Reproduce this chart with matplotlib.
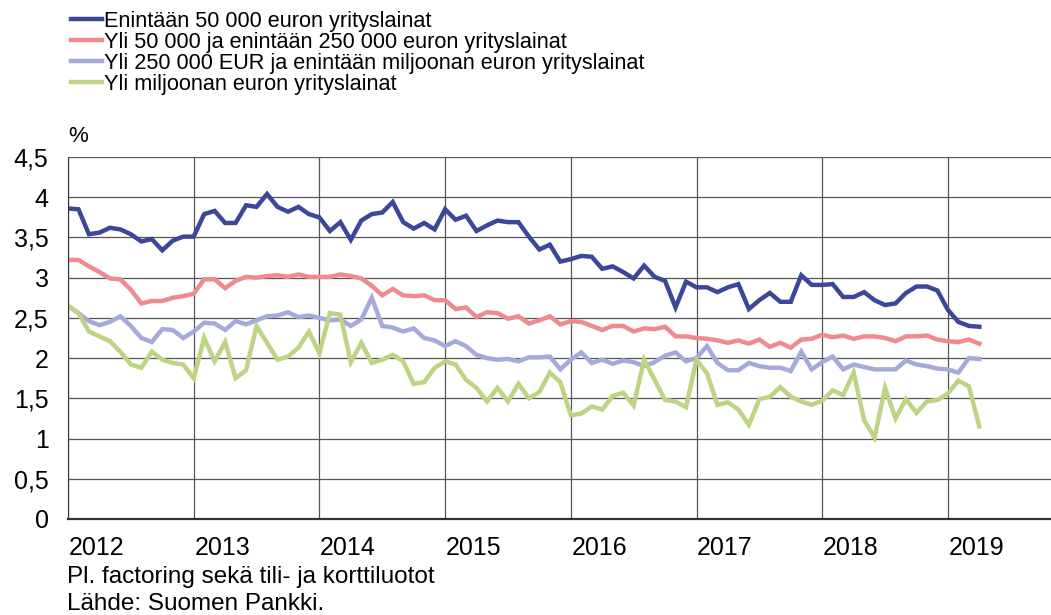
import matplotlib
matplotlib.use("Agg")
import matplotlib.pyplot as plt
import numpy as np

plt.rcParams['font.family'] = ['Liberation Sans', 'DejaVu Sans']

labels = ["Enintään 50 000 euron yrityslainat",
          "Yli 50 000 ja enintään 250 000 euron yrityslainat",
          "Yli 250 000 EUR ja enintään miljoonan euron yrityslainat",
          "Yli miljoonan euron yrityslainat"]
colors = ["#3d4799", "#ee8a90", "#a6a9dc", "#bed384"]

# monthly, Jan 2012 - Apr 2019
small = [3.86, 3.85, 3.54, 3.56, 3.62, 3.60, 3.54, 3.45, 3.48, 3.34, 3.46, 3.51,
         3.51, 3.79, 3.83, 3.68, 3.68, 3.90, 3.88, 4.04, 3.88, 3.82, 3.88, 3.79,
         3.75, 3.58, 3.69, 3.47, 3.71, 3.79, 3.81, 3.94, 3.69, 3.61, 3.68, 3.60,
         3.85, 3.72, 3.77, 3.58, 3.65, 3.71, 3.69, 3.69, 3.51, 3.35, 3.41, 3.20,
         3.23, 3.27, 3.26, 3.11, 3.14, 3.07, 2.99, 3.15, 3.01, 2.96, 2.63, 2.95,
         2.88, 2.88, 2.82, 2.88, 2.92, 2.61, 2.72, 2.81, 2.70, 2.70, 3.03, 2.91,
         2.91, 2.92, 2.76, 2.76, 2.82, 2.72, 2.66, 2.68, 2.81, 2.89, 2.89, 2.84,
         2.60, 2.45, 2.40, 2.39]
mid = [3.22, 3.22, 3.14, 3.07, 2.99, 2.98, 2.85, 2.68, 2.71, 2.71, 2.75, 2.77,
       2.80, 2.98, 2.98, 2.87, 2.96, 3.01, 3.00, 3.02, 3.03, 3.01, 3.04, 3.01,
       3.01, 3.01, 3.04, 3.02, 2.99, 2.90, 2.78, 2.86, 2.78, 2.77, 2.78, 2.72,
       2.72, 2.61, 2.63, 2.51, 2.57, 2.56, 2.49, 2.52, 2.43, 2.47, 2.52, 2.42,
       2.46, 2.45, 2.40, 2.35, 2.40, 2.40, 2.33, 2.37, 2.36, 2.39, 2.27, 2.27,
       2.25, 2.24, 2.22, 2.19, 2.22, 2.18, 2.23, 2.14, 2.19, 2.13, 2.23, 2.24,
       2.29, 2.26, 2.28, 2.24, 2.27, 2.27, 2.25, 2.21, 2.27, 2.27, 2.28, 2.23,
       2.21, 2.20, 2.23, 2.18]
large = [2.65, 2.56, 2.46, 2.41, 2.45, 2.52, 2.40, 2.25, 2.20, 2.36, 2.35, 2.25,
         2.33, 2.44, 2.43, 2.35, 2.46, 2.42, 2.47, 2.52, 2.53, 2.57, 2.51, 2.53,
         2.50, 2.47, 2.48, 2.40, 2.48, 2.75, 2.40, 2.38, 2.33, 2.37, 2.25, 2.22,
         2.15, 2.21, 2.15, 2.04, 2.00, 1.98, 1.99, 1.96, 2.01, 2.01, 2.02, 1.86,
         1.98, 2.07, 1.94, 1.98, 1.93, 1.97, 1.95, 1.90, 1.95, 2.03, 2.07, 1.96,
         2.00, 2.15, 1.94, 1.85, 1.85, 1.94, 1.90, 1.88, 1.88, 1.84, 2.08, 1.86,
         1.95, 2.02, 1.86, 1.92, 1.89, 1.86, 1.86, 1.86, 1.97, 1.92, 1.90, 1.87,
         1.86, 1.82, 2.00, 1.99]
huge = [2.65, 2.56, 2.33, 2.27, 2.21, 2.08, 1.92, 1.88, 2.08, 1.98, 1.94, 1.92,
        1.75, 2.25, 1.96, 2.20, 1.75, 1.85, 2.40, 2.19, 1.98, 2.02, 2.13, 2.33,
        2.06, 2.56, 2.54, 1.95, 2.19, 1.94, 1.98, 2.04, 1.96, 1.68, 1.70, 1.88,
        1.96, 1.92, 1.73, 1.63, 1.46, 1.63, 1.46, 1.68, 1.50, 1.58, 1.82, 1.70,
        1.29, 1.31, 1.40, 1.36, 1.53, 1.57, 1.41, 1.98, 1.73, 1.48, 1.46, 1.39,
        1.98, 1.81, 1.42, 1.45, 1.36, 1.17, 1.49, 1.52, 1.64, 1.52, 1.46, 1.42,
        1.47, 1.60, 1.54, 1.82, 1.23, 1.01, 1.63, 1.25, 1.49, 1.32, 1.46, 1.48,
        1.56, 1.72, 1.65, 1.15]
years = list(range(2012, 2020))
yticks = [0, 0.5, 1, 1.5, 2, 2.5, 3, 3.5, 4, 4.5]
ylabels = ["0", "0,5", "1", "1,5", "2", "2,5", "3", "3,5", "4", "4,5"]

x = 2012 + np.arange(len(small)) / 12

fig = plt.figure(figsize=(10.51, 6.15), dpi=100)
ax = fig.add_axes([68 / 1051, 1 - 519 / 615, 1 - 68 / 1051, (519 - 157) / 615])

for ys, c, lab in zip([small, mid, large, huge], colors, labels):
    ax.plot(x, ys, color=c, lw=3.2, label=lab, solid_joinstyle='miter')

ax.set_xlim(2012, 2012 + (1051 - 68) / 125.7)
ax.set_ylim(0, 4.5)
ax.set_yticks(yticks)
ax.set_yticklabels(ylabels, fontsize=18)
ax.set_xticks(years)
ax.set_xticklabels([])
ax.tick_params(length=0, pad=14)
ax.grid(True, color='#555555', lw=0.9)
ax.set_axisbelow(True)
for s in ['top', 'right']:
    ax.spines[s].set_visible(False)
ax.spines['left'].set_color('#333333')
ax.spines['bottom'].set_color('#333333')
ax.spines['bottom'].set_linewidth(1.6)

for yr in years:
    ax.text(yr + 0.005, -0.08, str(yr), transform=ax.get_xaxis_transform(),
            ha='left', va='center', fontsize=18)

fig.text(68 / 1051, 1 - 137 / 615, "%", fontsize=16, va='center', ha='left')
fig.text(67 / 1051, 1 - 577 / 615, "Pl. factoring sekä tili- ja korttiluotot",
         fontsize=17.5, va='center', ha='left')
fig.text(67 / 1051, 1 - 604 / 615, "Lähde: Suomen Pankki.",
         fontsize=17.5, va='center', ha='left')

fig.legend(loc='upper left', bbox_to_anchor=(71 / 1051, 1 - 11 / 615), frameon=False,
           fontsize=15.6, handlelength=1.45, handletextpad=0.05, labelspacing=0.0,
           borderpad=0, borderaxespad=0)

fig.savefig("out.png", dpi=100)
